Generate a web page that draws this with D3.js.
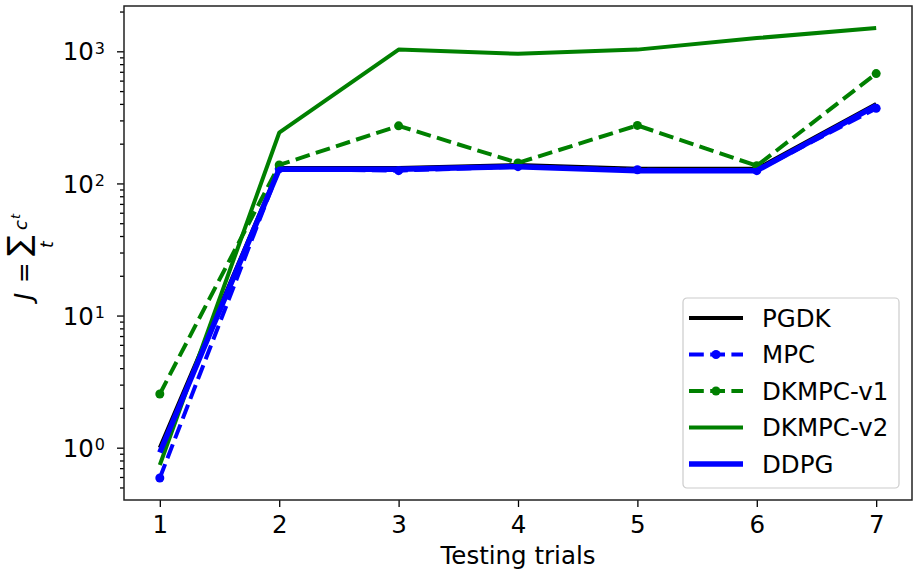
<!DOCTYPE html>
<html>
<head>
<meta charset="utf-8">
<script src="https://cdn.jsdelivr.net/npm/d3@7"></script>
<style>
  body { margin: 0; background: #fff; }
  text { font-family: "DejaVu Sans", sans-serif; }
</style>
</head>
<body>
<div id="chart"></div>
<script>
// trials on the x axis
var trials = [1, 2, 3, 4, 5, 6, 7];

// J values
var pgdk = [1.0, 131, 131, 138, 129, 129, 400];
var mpc = [0.59, 129, 125, 134, 127, 125, 370];
var dkmpcV1 = [2.55, 138, 273, 143, 275, 136, 678];
var dkmpcV2 = [0.74, 242, 1030, 957, 1030, 1260, 1500];
var ddpg = [0.92, 128, 128, 134, 125, 125, 388];

var seriesNames = ["PGDK", "MPC", "DKMPC-v1", "DKMPC-v2", "DDPG"];
var yTickExps = [0, 1, 2, 3];

var width = 918, height = 571;
var margin = { top: 6, right: 6, bottom: 71, left: 124 };
var w = width - margin.left - margin.right,
  h = height - margin.top - margin.bottom;
var fs = 24.5;

var svg = d3.select("#chart").append("svg")
  .attr("width", width)
  .attr("height", height);

var g = svg.append("g")
  .attr("transform", "translate(" + margin.left + "," + margin.top + ")");

var x = d3.scaleLinear().domain([0.7, 7.3]).range([0, w]);
var y = d3.scaleLog().domain([Math.pow(10, -0.396), Math.pow(10, 3.343)]).range([h, 0]);

var styles = [
  { data: pgdk, color: "#000000", width: 4, dash: null, dots: false },
  { data: mpc, color: "#0000ff", width: 4, dash: "14.8,6.4", dots: true },
  { data: dkmpcV1, color: "#008000", width: 4, dash: "14.8,6.4", dots: true },
  { data: dkmpcV2, color: "#008000", width: 4, dash: null, dots: false },
  { data: ddpg, color: "#0000ff", width: 5.5, dash: null, dots: false }
];

var line = d3.line()
  .x(function (d) { return x(d.x); })
  .y(function (d) { return y(d.y); });

var plot = g.append("g");
styles.forEach(function (s) {
  var pts = trials.map(function (t, i) { return { x: t, y: s.data[i] }; });
  plot.append("path")
    .datum(pts)
    .attr("d", line)
    .attr("fill", "none")
    .attr("stroke", s.color)
    .attr("stroke-width", s.width)
    .attr("stroke-dasharray", s.dash)
    .attr("stroke-linejoin", "round");
  if (s.dots) {
    plot.selectAll(null)
      .data(pts)
      .enter()
      .append("circle")
      .attr("cx", function (d) { return x(d.x); })
      .attr("cy", function (d) { return y(d.y); })
      .attr("r", 4.5)
      .attr("fill", s.color);
  }
});

// axes
var xAxis = g.append("g")
  .attr("transform", "translate(0," + h + ")")
  .call(d3.axisBottom(x).tickValues(trials).tickSize(7).tickPadding(9).tickFormat(d3.format("d")));
xAxis.selectAll("text").attr("font-size", fs).attr("fill", "#000");

var minorTicks = [];
for (var e = -1; e <= 3; e++) {
  for (var m = 2; m <= 9; m++) {
    var v = m * Math.pow(10, e);
    if (v >= y.domain()[0] && v <= y.domain()[1]) minorTicks.push(v);
  }
}
var yMinor = g.append("g")
  .call(d3.axisLeft(y).tickValues(minorTicks).tickSize(4).tickFormat(""));
yMinor.select(".domain").remove();

var yAxis = g.append("g")
  .call(d3.axisLeft(y).tickValues(yTickExps.map(function (k) { return Math.pow(10, k); }))
    .tickSize(7).tickPadding(8).tickFormat(""));

yAxis.selectAll(".tick").each(function (d, i) {
  var t = d3.select(this).append("text")
    .attr("x", -19)
    .attr("dy", "0.35em")
    .attr("text-anchor", "end")
    .attr("font-size", fs)
    .attr("fill", "#000");
  t.append("tspan").text("10");
  t.append("tspan").attr("dy", -6.5).attr("dx", 1).attr("font-size", 16).text(yTickExps[i]);
});

g.selectAll(".tick line").attr("stroke", "#000").attr("stroke-width", 1.3);
g.selectAll(".domain").remove();

// frame
g.append("rect")
  .attr("width", w)
  .attr("height", h)
  .attr("fill", "none")
  .attr("stroke", "#222")
  .attr("stroke-width", 1.5);

// axis labels
svg.append("text")
  .attr("x", margin.left + w / 2)
  .attr("y", 564)
  .attr("text-anchor", "middle")
  .attr("font-size", fs)
  .text("Testing trials");

// y label: J = sum_t c_t, pieces placed in a rotated frame
// (local u runs up the page, v runs to the right; baseline at image x = 32)
var yl = svg.append("g").attr("transform", "translate(32,300) rotate(-90)");
yl.append("text").attr("x", 0).attr("y", 0).attr("font-size", fs).attr("font-style", "italic").text("J");
yl.append("text").attr("x", 17).attr("y", 0).attr("font-size", fs).text("=");

// size the big sigma from its ink box so it spans image x ~3..35
var ctx = document.createElement("canvas").getContext("2d");
ctx.font = "100px 'DejaVu Sans'";
var mt = ctx.measureText("\u2211");
var inkA = mt.actualBoundingBoxAscent / 100,
  inkD = mt.actualBoundingBoxDescent / 100,
  fontA = (mt.fontBoundingBoxAscent || 92.8) / 100;
var sigBottom = 3; // v of ink bottom
var sigSize = Math.min(32 / (inkA + inkD), (32 + sigBottom - 0.5) / (inkD + fontA));
yl.append("text")
  .attr("x", 44)
  .attr("y", sigBottom - inkD * sigSize)
  .attr("font-size", sigSize)
  .text("\u2211");
yl.append("text").attr("x", 52).attr("y", 21).attr("font-size", 17).attr("font-style", "italic").text("t");
yl.append("text").attr("x", 70).attr("y", -5).attr("font-size", 18).attr("font-style", "italic").text("c");
yl.append("text").attr("x", 81).attr("y", -12).attr("font-size", 13).attr("font-style", "italic").text("t");

// legend
var lg = svg.append("g").attr("transform", "translate(683,298)");
lg.append("rect")
  .attr("width", 216)
  .attr("height", 190)
  .attr("rx", 4)
  .attr("fill", "#fff")
  .attr("fill-opacity", 0.8)
  .attr("stroke", "#ccc")
  .attr("stroke-width", 1.2);

var rows = lg.selectAll(".row")
  .data(styles)
  .enter()
  .append("g")
  .attr("transform", function (d, i) { return "translate(0," + (20 + i * 36.5) + ")"; });

rows.append("line")
  .attr("x1", 6).attr("x2", 60)
  .attr("stroke", function (d) { return d.color; })
  .attr("stroke-width", function (d) { return d.width; })
  .attr("stroke-dasharray", function (d) { return d.dash; });
rows.filter(function (d) { return d.dots; })
  .append("circle")
  .attr("cx", 33)
  .attr("r", 4.5)
  .attr("fill", function (d) { return d.color; });
rows.append("text")
  .attr("x", 79)
  .attr("dy", "0.36em")
  .attr("font-size", fs)
  .text(function (d, i) { return seriesNames[i]; });
</script>
</body>
</html>
